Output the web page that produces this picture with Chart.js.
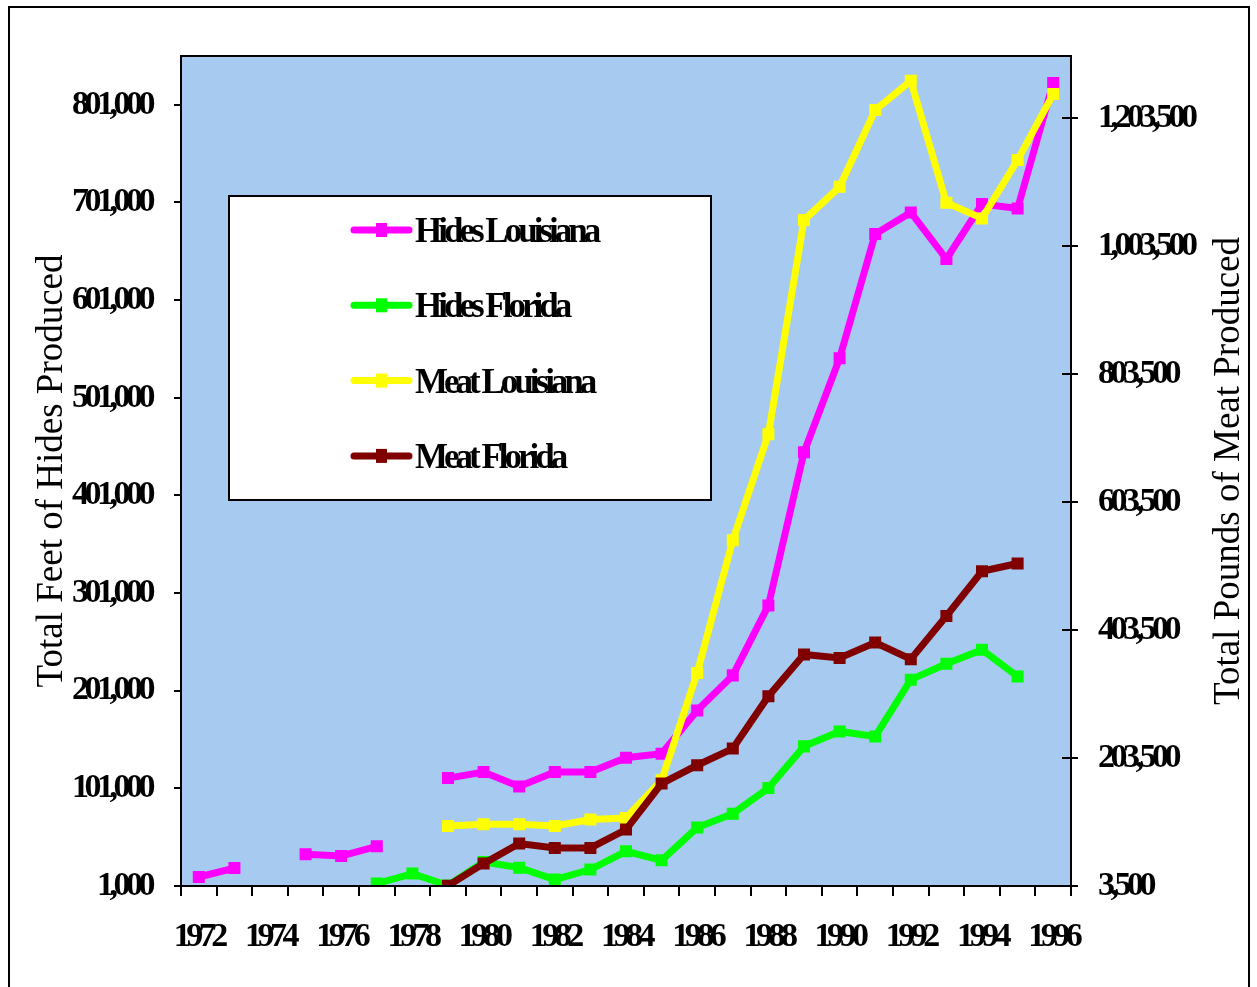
<!DOCTYPE html>
<html>
<head>
<meta charset="utf-8">
<title>Hides and Meat Produced</title>
<script src="https://cdn.jsdelivr.net/npm/chart.js@4.4.1/dist/chart.umd.min.js"></script>
<style>
  html, body { margin: 0; padding: 0; background: #fff; overflow: hidden; }
  canvas { display: block; }
</style>
</head>
<body>
<canvas id="chart" width="1257" height="987"></canvas>
<script>
// ---- data ----
const years = ["1972", "1973", "1974", "1975", "1976", "1977", "1978", "1979", "1980",
  "1981", "1982", "1983", "1984", "1985", "1986", "1987", "1988", "1989", "1990",
  "1991", "1992", "1993", "1994", "1995", "1996"];

// feet of hides (left axis)
const hidesLouisiana = [10200, 19400, null, 33400, 31700, 41600, null, 111500, 117700,
  103000, 117700, 117700, 132400, 136500, 180800, 216700, 288300, 445200, 541400,
  668700, 690800, 643100, 699400, 694900, 823300];
const hidesFlorida = [null, null, null, null, null, 3500, 13700, 1500, 25600,
  19800, 7600, 17800, 36500, 27300, 60800, 75100, 101300, 144000, 159300,
  154200, 212300, 228600, 243000, 215600, null];

// pounds of meat (right axis)
const meatLouisiana = [null, null, null, null, null, null, null, 97300, 99900,
  99900, 97300, 107300, 109800, 168700, 336300, 543700, 709300, 1043700, 1095700,
  1215500, 1261300, 1070700, 1046300, 1137400, 1240500];
const meatFlorida = [null, null, null, null, null, null, null, 4000, 38500,
  69800, 62900, 62900, 91600, 163500, 192100, 218200, 299900, 365100, 359800,
  383800, 357700, 425400, 495200, 507300, null];

const hidesTicks = [1000, 101000, 201000, 301000, 401000, 501000, 601000, 701000, 801000];
const meatTicks = [3500, 203500, 403500, 603500, 803500, 1003500, 1203500];

const leftTitle = "Total Feet of Hides Produced";
const rightTitle = "Total Pounds of Meat Produced";

const SERIF = "'Liberation Serif', 'Times New Roman', serif";
const TICK_SPACING = "-4.5px";

// condensed look of the tick labels
const spacingPlugin = {
  id: "spacing",
  beforeLayout(chart) { chart.ctx.letterSpacing = TICK_SPACING; },
  beforeDraw(chart) { chart.ctx.letterSpacing = TICK_SPACING; },
};

// frame, plot background, legend box, axis titles
const decorPlugin = {
  id: "decor",
  beforeDraw(chart) {
    const { ctx, chartArea: a } = chart;
    ctx.save();
    ctx.fillStyle = "#fff";
    ctx.fillRect(0, 0, chart.width, chart.height);
    ctx.strokeStyle = "#000";
    ctx.lineWidth = 2;
    ctx.strokeRect(9, 7, 1240, 1000);
    ctx.fillStyle = "#a6caf0";
    ctx.fillRect(a.left, a.top, a.right - a.left, a.bottom - a.top);
    ctx.restore();
  },
  afterDatasetsDraw(chart) {
    const { ctx, chartArea: a } = chart;
    ctx.save();
    // plot border
    ctx.strokeStyle = "#000";
    ctx.lineWidth = 2;
    ctx.strokeRect(a.left, a.top, a.right - a.left, a.bottom - a.top);

    // inner tick marks on the right axis
    const yR = chart.scales.y1;
    meatTicks.forEach((v) => {
      const py = Math.round(yR.getPixelForValue(v));
      ctx.beginPath();
      ctx.moveTo(a.right - 9, py);
      ctx.lineTo(a.right, py);
      ctx.stroke();
    });

    // legend
    ctx.fillStyle = "#fff";
    ctx.fillRect(229, 196, 482, 304);
    ctx.strokeRect(229, 196, 482, 304);
    ctx.letterSpacing = "-4px";
    ctx.font = "bold 35px " + SERIF;
    ctx.textBaseline = "middle";
    ctx.textAlign = "left";
    chart.data.datasets.forEach((ds, i) => {
      const cy = 230 + i * 75.3;
      ctx.strokeStyle = ds.borderColor;
      ctx.lineWidth = 7;
      ctx.lineCap = "round";
      ctx.beginPath();
      ctx.moveTo(354, cy);
      ctx.lineTo(409, cy);
      ctx.stroke();
      ctx.fillStyle = ds.borderColor;
      ctx.fillRect(376, cy - 7, 11, 14);
      ctx.fillStyle = "#000";
      ctx.fillText(ds.label, 415, cy + 3);
    });

    // axis titles, both reading bottom to top
    ctx.letterSpacing = "0px";
    ctx.font = "37px " + SERIF;
    ctx.textAlign = "center";
    const cy = (a.top + a.bottom) / 2;
    [[52, leftTitle], [1229, rightTitle]].forEach(([x, t]) => {
      ctx.save();
      ctx.translate(x, cy);
      ctx.rotate(-Math.PI / 2);
      ctx.fillText(t, 0, 0);
      ctx.restore();
    });
    ctx.restore();
  },
};

function lineSet(label, data, color, axis, order) {
  return {
    label: label,
    data: data,
    yAxisID: axis,
    borderColor: color,
    backgroundColor: color,
    borderWidth: 7,
    pointStyle: "rect",
    pointRadius: 8.5,
    pointHoverRadius: 8.5,
    pointBorderWidth: 0,
    spanGaps: false,
    tension: 0,
    order: order,
  };
}

const tickFont = { family: SERIF, size: 34, weight: "bold" };

new Chart(document.getElementById("chart"), {
  type: "line",
  data: {
    labels: years,
    datasets: [
      lineSet("Hides Louisiana", hidesLouisiana, "#ff00ff", "y", 4),
      lineSet("Hides Florida", hidesFlorida, "#00ff00", "y", 3),
      lineSet("Meat Louisiana", meatLouisiana, "#ffff00", "y1", 2),
      lineSet("Meat Florida", meatFlorida, "#800000", "y1", 1),
    ],
  },
  options: {
    responsive: false,
    animation: false,
    devicePixelRatio: 1,
    layout: { padding: { top: 56, left: 0, right: 0, bottom: 0 } },
    plugins: {
      legend: { display: false },
      tooltip: { enabled: false },
    },
    scales: {
      x: {
        type: "category",
        offset: true,
        border: { display: false },
        grid: {
          offset: true,
          drawOnChartArea: false,
          drawTicks: true,
          tickLength: 10,
          color: "#000",
          lineWidth: 2,
        },
        ticks: {
          autoSkip: false,
          maxRotation: 0,
          padding: 21,
          color: "#000",
          font: tickFont,
          callback: (v, i) => (i % 2 === 0 ? years[i] : ""),
        },
        afterFit: (s) => { s.height = 101; },
      },
      y: {
        position: "left",
        min: 1000,
        max: 851000,
        border: { display: false },
        grid: {
          drawOnChartArea: false,
          tickLength: 7,
          color: "#000",
          lineWidth: 2,
        },
        ticks: {
          padding: 23,
          color: "#000",
          font: tickFont,
          callback: (v) => v.toLocaleString("en-US"),
        },
        afterBuildTicks: (s) => { s.ticks = hidesTicks.map((v) => ({ value: v })); },
        afterFit: (s) => { s.width = 181; },
      },
      y1: {
        position: "right",
        min: 3500,
        max: 1300000,
        border: { display: false },
        grid: {
          drawOnChartArea: false,
          tickLength: 7,
          color: "#000",
          lineWidth: 2,
        },
        ticks: {
          padding: 20,
          color: "#000",
          font: tickFont,
          callback: (v) => v.toLocaleString("en-US"),
        },
        afterBuildTicks: (s) => { s.ticks = meatTicks.map((v) => ({ value: v })); },
        afterFit: (s) => { s.width = 186; },
      },
    },
  },
  plugins: [spacingPlugin, decorPlugin],
});
</script>
</body>
</html>
